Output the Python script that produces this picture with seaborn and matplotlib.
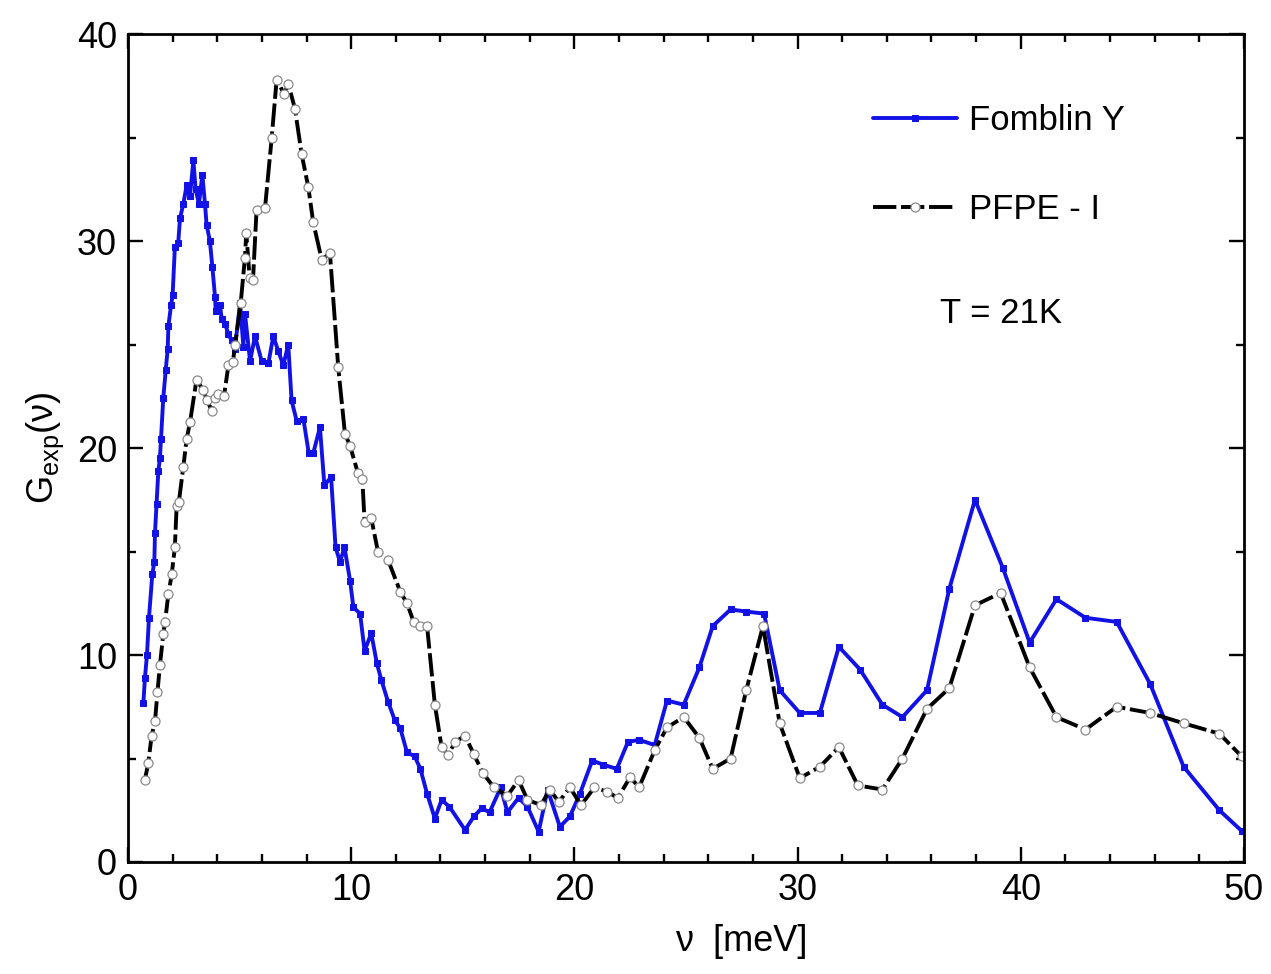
import matplotlib
matplotlib.use("Agg")
import matplotlib.pyplot as plt
import seaborn as sns
import pandas as pd
from matplotlib.ticker import MultipleLocator

# ---- data ----
fomblin_x = [0.69, 0.76, 0.85, 0.94, 1.09, 1.18, 1.21, 1.28, 1.36, 1.43, 1.48, 1.58, 1.69, 1.78,
             1.81, 1.93, 2.0, 2.1, 2.25, 2.33, 2.48, 2.63, 2.78, 2.93, 3.03, 3.18, 3.33, 3.45,
             3.52, 3.67, 3.78, 3.9, 3.93, 4.12, 4.2, 4.35, 4.5, 4.64, 4.79, 5.02, 5.17, 5.24,
             5.47, 5.69, 5.99, 6.29, 6.51, 6.73, 6.96, 7.18, 7.33, 7.56, 7.86, 8.1, 8.3, 8.6,
             8.8, 9.1, 9.3, 9.5, 9.7, 9.95, 10.1, 10.4, 10.6, 10.9, 11.15, 11.35, 11.65, 11.95,
             12.2, 12.5, 12.85, 13.1, 13.4, 13.75, 14.05, 14.4, 15.1, 15.5, 15.85, 16.2, 16.7,
             17.0, 17.5, 17.9, 18.4, 18.8, 19.35, 19.8, 20.25, 20.8, 21.3, 21.9, 22.4, 22.9,
             23.6, 24.15, 24.9, 25.6, 26.2, 27.0, 27.7, 28.5, 29.2, 30.1, 31.0, 31.85, 32.8,
             33.8, 34.7, 35.8, 36.8, 37.95, 39.2, 40.4, 41.6, 42.9, 44.3, 45.8, 47.3, 48.9, 49.9]
fomblin_y = [7.7, 8.9, 10.0, 11.8, 13.9, 14.5, 15.9, 17.3, 18.9, 19.5, 20.45, 22.4, 23.75, 24.8,
             25.9, 26.9, 27.4, 29.7, 29.9, 31.1, 31.8, 32.7, 32.2, 33.9, 32.5, 31.8, 33.2, 31.8,
             30.8, 30.0, 28.75, 27.3, 26.6, 26.9, 26.25, 26.0, 25.5, 25.2, 24.8, 27.0, 24.9, 26.5,
             24.2, 25.4, 24.2, 24.1, 25.4, 24.7, 24.0, 25.0, 22.3, 21.3, 21.4, 19.75, 19.75, 21.0,
             18.2, 18.6, 15.2, 14.5, 15.2, 13.6, 12.3, 12.0, 10.2, 11.05, 9.6, 8.8, 7.75, 6.86,
             6.46, 5.3, 5.1, 4.5, 3.3, 2.1, 3.0, 2.67, 1.55, 2.2, 2.6, 2.4, 3.6,
             2.4, 3.1, 2.67, 1.46, 3.5, 1.7, 2.2, 3.3, 4.9, 4.7, 4.5, 5.8, 5.9,
             5.65, 7.8, 7.6, 9.4, 11.4, 12.2, 12.1, 12.0, 8.3, 7.2, 7.2, 10.4, 9.3,
             7.6, 7.0, 8.3, 13.2, 17.5, 14.2, 10.6, 12.7, 11.8, 11.6, 8.6, 4.6, 2.5, 1.5]

pfpe_x = [0.76, 0.91, 1.06, 1.21, 1.32, 1.43, 1.58, 1.66, 1.81, 1.96, 2.1, 2.18, 2.28, 2.48,
          2.63, 2.78, 3.07, 3.37, 3.55, 3.75, 3.9, 4.05, 4.3, 4.5, 4.7, 4.8, 5.05, 5.24, 5.3,
          5.45, 5.6, 5.76, 6.14, 6.44, 6.66, 7.0, 7.18, 7.48, 7.78, 8.08, 8.3, 8.68, 9.05,
          9.42, 9.72, 9.95, 10.3, 10.5, 10.6, 10.9, 11.2, 11.65, 12.2, 12.5, 12.8, 13.1, 13.4,
          13.75, 14.05, 14.35, 14.65, 15.1, 15.5, 15.9, 16.4, 17.0, 17.5, 17.9, 18.5, 18.9,
          19.3, 19.8, 20.3, 20.9, 21.45, 21.95, 22.5, 22.9, 23.6, 24.15, 24.9, 25.6, 26.2,
          27.0, 27.7, 28.45, 29.2, 30.1, 31.0, 31.85, 32.7, 33.8, 34.7, 35.8, 36.8, 37.95,
          39.1, 40.4, 41.6, 42.9, 44.3, 45.8, 47.3, 48.9, 49.9]
pfpe_y = [3.98, 4.8, 6.1, 6.8, 8.2, 9.5, 11.0, 11.6, 12.95, 13.9, 15.2, 17.2, 17.4, 19.1,
          20.45, 21.25, 23.3, 22.8, 22.3, 21.8, 22.4, 22.6, 22.5, 24.0, 24.15, 25.0, 27.0, 29.2, 30.4,
          28.2, 28.1, 31.5, 31.6, 35.0, 37.8, 37.1, 37.6, 36.4, 34.2, 32.6, 30.9, 29.1, 29.4,
          23.9, 20.7, 20.1, 18.8, 18.5, 16.45, 16.6, 15.0, 14.6, 13.06, 12.5, 11.6, 11.4, 11.4,
          7.6, 5.56, 5.17, 5.8, 6.1, 5.2, 4.3, 3.6, 3.2, 3.96, 3.0, 2.75, 3.5,
          2.9, 3.6, 2.75, 3.6, 3.4, 3.1, 4.1, 3.6, 5.4, 6.5, 7.0, 6.0, 4.5,
          5.0, 8.3, 11.4, 6.7, 4.05, 4.6, 5.55, 3.7, 3.5, 5.0, 7.4, 8.4, 12.4,
          13.0, 9.4, 7.0, 6.4, 7.5, 7.2, 6.7, 6.2, 5.1]

series_names = ["Fomblin Y", "PFPE - I"]
x_ticks = [0, 10, 20, 30, 40, 50]
y_ticks = [0, 10, 20, 30, 40]
annotation = "T = 21K"

df_f = pd.DataFrame({"x": fomblin_x, "y": fomblin_y})
df_p = pd.DataFrame({"x": pfpe_x, "y": pfpe_y})

# ---- style ----
sns.set_style("ticks")
plt.rcParams["font.family"] = ["Liberation Sans", "DejaVu Sans"]
plt.rcParams["mathtext.default"] = "regular"
plt.rcParams["text.color"] = "black"
plt.rcParams["axes.labelcolor"] = "black"

fig = plt.figure(figsize=(12.71, 9.74), dpi=100)
ax = fig.add_axes([0.1007, 0.115, 0.878, 0.850])

sns.lineplot(data=df_f, x="x", y="y", ax=ax, sort=False, estimator=None,
             color="#1212e6", linewidth=2.8, marker="s", markersize=5,
             markeredgecolor="#1212e6", markerfacecolor="#1212e6",
             label=series_names[0])
sns.lineplot(data=df_p, x="x", y="y", ax=ax, sort=False, estimator=None,
             color="black", linewidth=2.8, marker="o", markersize=6.5,
             markerfacecolor="white", markeredgecolor="#8a8a8a", markeredgewidth=0.9,
             dashes=(6, 1.2), label=series_names[1])

ax.set_xlim(0, 50)
ax.set_ylim(0, 40)
ax.set_xticks(x_ticks)
ax.set_yticks(y_ticks)
ax.xaxis.set_minor_locator(MultipleLocator(2))
ax.yaxis.set_minor_locator(MultipleLocator(5))
ax.tick_params(which="both", direction="in", top=True, right=True, width=1.7,
               labelsize=26, colors="black")
ax.tick_params(which="major", length=11, pad=8)
ax.tick_params(which="minor", length=6)
for s in ax.spines.values():
    s.set_linewidth(2.0)
    s.set_color("black")

ax.set_xlabel("ν  [meV]", fontsize=26)
ax.xaxis.set_label_coords(0.55, -0.075)
ax.set_ylabel("G$_{exp}$(ν)", fontsize=26, labelpad=8)

ax.text(0.728, 0.663, annotation, transform=ax.transAxes, fontsize=25,
        ha="left", va="center")

leg = ax.legend(loc="upper left", bbox_to_anchor=(0.668, 0.915), frameon=False,
                fontsize=25, handlelength=2.4, handletextpad=0.35,
                labelspacing=1.6, borderpad=0, borderaxespad=0)

fig.savefig("out.png", dpi=100)
